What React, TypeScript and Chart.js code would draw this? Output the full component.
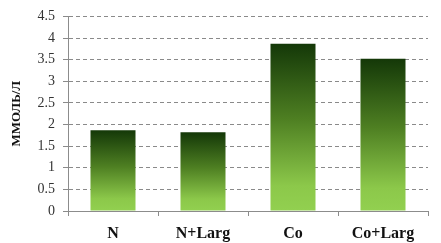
import React, { useEffect, useRef } from "react";
import { Chart, registerables } from "chart.js";

Chart.register(...registerables);

const categories = ["N", "N+Larg", "Co", "Co+Larg"];
const values = [1.87, 1.82, 3.87, 3.52];
const yTicks = [0, 0.5, 1, 1.5, 2, 2.5, 3, 3.5, 4, 4.5];
const yTitle = "ММОЛЬ/Л";

export default function App() {
  const ref = useRef<HTMLCanvasElement | null>(null);
  useEffect(() => {
    document.body.style.margin = "0";
    const canvas = ref.current!;
    const chart = new Chart(canvas, {
      type: "bar",
      data: {
        labels: categories,
        datasets: [
          {
            data: values,
            backgroundColor: (ctx: any) => {
              const c = ctx.chart;
              const ys = c.scales?.y;
              if (!ys || ctx.raw === undefined) return "#6a9a30";
              const top = ys.getPixelForValue(ctx.raw);
              const bot = ys.getPixelForValue(0);
              if (!isFinite(top) || !isFinite(bot)) return "#6a9a30";
              const g = c.ctx.createLinearGradient(0, top, 0, bot);
              g.addColorStop(0, "#143808");
              g.addColorStop(0.45, "#4e7f22");
              g.addColorStop(0.85, "#8cc84a");
              g.addColorStop(1, "#92d050");
              return g;
            },
            borderWidth: 0,
            categoryPercentage: 1,
            barPercentage: 0.5,
          },
        ],
      },
      options: {
        animation: false,
        responsive: false,
        maintainAspectRatio: false,
        layout: { padding: { top: 12, right: 13, left: 0, bottom: 0 } },
        plugins: { legend: { display: false }, tooltip: { enabled: false } },
        scales: {
          x: {
            grid: {
              offset: true,
              drawOnChartArea: false,
              drawTicks: true,
              tickLength: 5,
              color: "#8c8c8c",
            },
            border: { color: "#8c8c8c", width: 1 },
            ticks: {
              color: "#111",
              font: { family: "Liberation Serif", size: 16, weight: "bold" },
              padding: 8,
            },
            afterFit: (s: any) => {
              s.height = 32;
            },
          },
          y: {
            min: 0,
            max: 4.5,
            afterBuildTicks: (s: any) => {
              s.ticks = yTicks.map((v) => ({ value: v }));
            },
            ticks: {
              color: "#333",
              font: { family: "Liberation Serif", size: 14 },
              padding: 8,
              callback: (v: any) => String(v),
            },
            grid: {
              color: "#8a8a8a",
              tickLength: 5,
              tickColor: "#8a8a8a",
            },
            border: { color: "#8c8c8c", width: 1, dash: [4, 3] },
            title: {
              display: true,
              text: yTitle,
              color: "#111",
              font: { family: "Liberation Serif", size: 13, weight: "bold" },
              padding: { top: 9, bottom: 2 },
            },
            afterFit: (s: any) => {
              s.width = 68;
            },
          },
        },
      },
    } as any);
    return () => chart.destroy();
  }, []);
  return <canvas ref={ref} width={441} height={243} style={{ display: "block" }} />;
}
